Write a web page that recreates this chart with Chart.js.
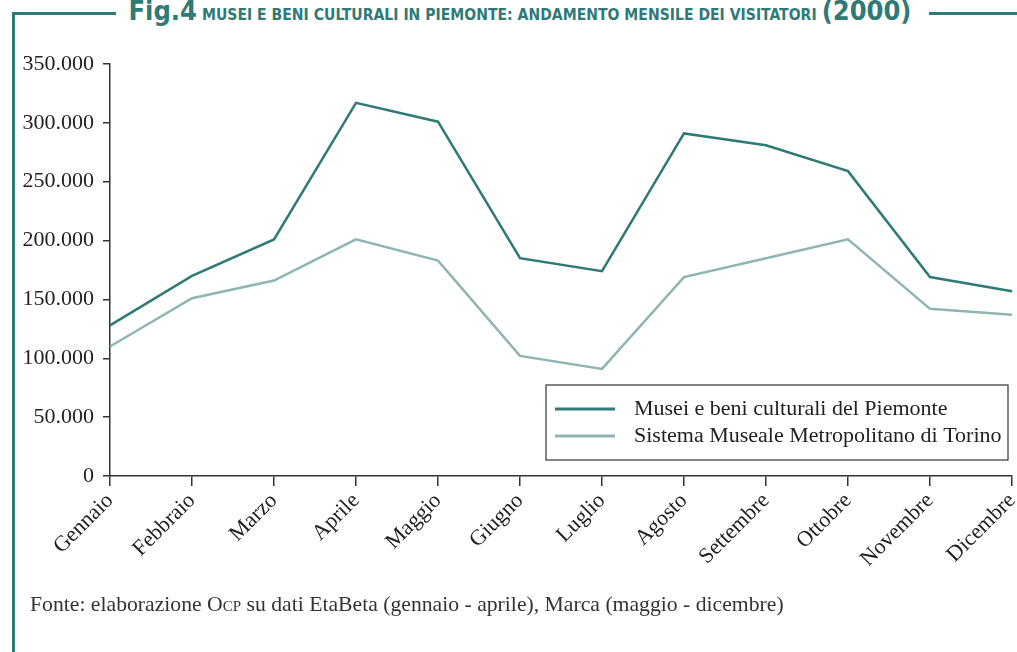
<!DOCTYPE html>
<html>
<head>
<meta charset="utf-8">
<script src="https://cdn.jsdelivr.net/npm/chart.js@4"></script>
<style>
  html, body { margin: 0; padding: 0; background: #fff; }
  #wrap { position: relative; width: 1017px; height: 652px; overflow: hidden; }
  .frame-left { position: absolute; left: 12px; top: 13px; width: 3px; height: 660px; background: #2f7a76; }
  .frame-top1 { position: absolute; left: 12px; top: 12px; width: 104px; height: 3px; background: #2f7a76; }
  .frame-top2 { position: absolute; left: 929px; top: 12px; width: 90px; height: 3px; background: #2f7a76; }
  #title { position: absolute; left: 114px; top: -5px; width: 812px; text-align: center; white-space: nowrap;
           color: #2f7a76; font-family: "Liberation Sans Narrow", "DejaVu Sans Condensed", sans-serif; font-weight: bold; }
  #title .big { font-size: 27px; }
  #title .sc { font-size: 15.6px; }
  #note { position: absolute; left: 30px; top: 592px; font-family: "Liberation Serif", serif; font-size: 21.7px; color: #333; }
  #note .sm { font-size: 15px; }
  #chartBox { position: absolute; left: 0; top: 0; width: 1017px; height: 600px; }
</style>
</head>
<body>
<div id="wrap">
  <div class="frame-left"></div>
  <div class="frame-top1"></div>
  <div class="frame-top2"></div>
  <div id="title"><span class="big">Fig.4</span> <span class="sc">MUSEI E BENI CULTURALI IN PIEMONTE: ANDAMENTO MENSILE DEI VISITATORI</span> <span class="big">(2000)</span></div>
  <div id="chartBox"><canvas id="visitorChart"></canvas></div>
  <div id="note">Fonte: elaborazione O<span class="sm">CP</span> su dati EtaBeta (gennaio - aprile), Marca (maggio - dicembre)</div>
</div>
<script>
const months = ['Gennaio', 'Febbraio', 'Marzo', 'Aprile', 'Maggio', 'Giugno', 'Luglio', 'Agosto', 'Settembre', 'Ottobre', 'Novembre', 'Dicembre'];
const piemonte = [128000, 170000, 201000, 317000, 301000, 185000, 174000, 291000, 281000, 259000, 169000, 157000];
const torino = [110000, 151000, 166000, 201000, 183000, 102000, 91000, 169000, 185000, 201000, 142000, 137000];
const seriesNames = ['Musei e beni culturali del Piemonte', 'Sistema Museale Metropolitano di Torino'];

const darkTeal = '#2f7a76';
const lightTeal = '#8fb5b3';
const axisColor = '#333';
const serif = '"Liberation Serif", serif';

function formatIt(v) {
    return String(v).replace(/\B(?=(\d{3})+(?!\d))/g, '.');
}

// legend drawn as a framed box inside the plot
const boxLegend = {
    id: 'boxLegend',
    afterDraw(chart) {
        const c = chart.ctx;
        const area = chart.chartArea;
        const x0 = area.left + 436, y0 = area.top + 321, w = 462, h = 75;
        c.save();
        c.strokeStyle = axisColor;
        c.lineWidth = 1.2;
        c.strokeRect(x0, y0, w, h);
        c.font = '22px ' + serif;
        c.fillStyle = '#222';
        c.textBaseline = 'middle';
        chart.data.datasets.forEach(function(ds, i) {
            const y = y0 + 24 + i * 27;
            c.strokeStyle = ds.borderColor;
            c.lineWidth = 3;
            c.beginPath();
            c.moveTo(x0 + 9, y);
            c.lineTo(x0 + 69, y);
            c.stroke();
            c.fillText(ds.label, x0 + 88, y);
        });
        c.restore();
    }
};

const ctx = document.getElementById('visitorChart');
new Chart(ctx, {
    type: 'line',
    data: {
        labels: months,
        datasets: [{
            label: seriesNames[0],
            data: piemonte,
            borderColor: darkTeal,
            borderWidth: 2.5,
            pointRadius: 0,
            tension: 0,
            fill: false
        }, {
            label: seriesNames[1],
            data: torino,
            borderColor: lightTeal,
            borderWidth: 2.5,
            pointRadius: 0,
            tension: 0,
            fill: false
        }]
    },
    options: {
        responsive: true,
        maintainAspectRatio: false,
        animation: false,
        layout: { padding: { top: 64, right: 5, left: 0, bottom: 0 } },
        plugins: {
            legend: { display: false },
            tooltip: { enabled: false }
        },
        scales: {
            x: {
                offset: false,
                afterFit: function(scale) {
                    scale.height = 124;
                    scale.paddingRight = 0;
                },
                border: { color: axisColor, width: 1.5 },
                grid: { drawOnChartArea: false, color: axisColor, tickLength: 10, lineWidth: 1.5 },
                ticks: {
                    maxRotation: 45,
                    minRotation: 45,
                    autoSkip: false,
                    color: '#222',
                    padding: 2,
                    font: { family: serif, size: 22 }
                }
            },
            y: {
                min: 0,
                max: 350000,
                afterFit: function(scale) { scale.width = 110; },
                border: { color: axisColor, width: 1.5 },
                grid: { drawOnChartArea: false, color: axisColor, tickLength: 7, lineWidth: 1.5 },
                ticks: {
                    stepSize: 50000,
                    color: '#222',
                    padding: 9,
                    font: { family: serif, size: 22 },
                    callback: function(v) { return formatIt(v); }
                }
            }
        }
    },
    plugins: [boxLegend]
});
</script>
</body>
</html>
